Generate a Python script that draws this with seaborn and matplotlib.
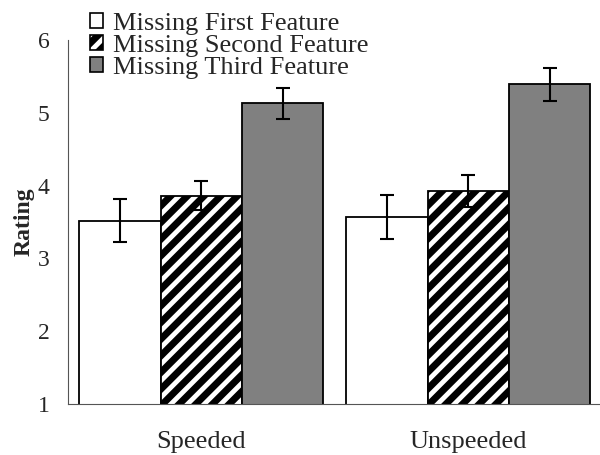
import numpy as np
import pandas as pd
import matplotlib
matplotlib.use("Agg")
import matplotlib.pyplot as plt
import seaborn as sns
from matplotlib.patches import Patch

# data
conditions = ["Speeded", "Unspeeded"]
features = ["Missing First Feature", "Missing Second Feature", "Missing Third Feature"]
first_mean = [3.52, 3.57]
second_mean = [3.86, 3.92]
third_mean = [5.13, 5.39]
first_err = [0.29, 0.30]
second_err = [0.20, 0.22]
third_err = [0.21, 0.23]

means = [first_mean, second_mean, third_mean]
errs = [first_err, second_err, third_err]

rows = []
for f, m, e in zip(features, means, errs):
    for c, v, ev in zip(conditions, m, e):
        rows.append({"Condition": c, "Feature": f, "Rating": v, "err": ev})
df = pd.DataFrame(rows)

sns.set_style("white")
plt.rcParams["font.family"] = ["Liberation Serif", "DejaVu Serif"]
plt.rcParams["hatch.linewidth"] = 5.0
plt.rcParams["hatch.color"] = "black"

colors = ["white", "white", "#808080"]
hatches = ["", "//", ""]

fig = plt.figure(figsize=(6, 4.55), dpi=100)
ax = fig.add_axes([0.113, 0.112, 0.89, 0.8])

sns.barplot(data=df, x="Condition", y="Rating", hue="Feature", order=conditions,
            hue_order=features, palette=colors, width=0.915, errorbar=None,
            edgecolor="black", linewidth=1.3, legend=False, ax=ax)

# style each hue group and add error bars
bar_groups = list(ax.containers)
for i, cont in enumerate(bar_groups):
    for bar, ev in zip(cont, errs[i]):
        bar.set_hatch(hatches[i])
        bar.set_facecolor(colors[i])
        bar.set_edgecolor("black")
        cx = bar.get_x() + bar.get_width() / 2
        ax.errorbar(cx, bar.get_height() + bar.get_y(), yerr=ev, color="black",
                    capsize=4.7, elinewidth=1.5, capthick=1.5, fmt="none", zorder=5)

ax.set_ylim(1, 6)
ax.set_xlim(-0.5, 1.5)
ax.set_yticks([1, 2, 3, 4, 5, 6])
ax.set_ylabel("Rating", fontsize=17, fontweight="bold")
ax.yaxis.set_label_coords(-0.062, 0.5)
ax.set_xlabel("")
ax.set_xticks([0.5], minor=True)
ax.tick_params(axis="x", which="major", length=0, labelsize=19, pad=19.5)
ax.tick_params(axis="x", which="minor", length=6, color="#555555", width=1)
ax.tick_params(axis="y", length=6, labelsize=17, color="#555555", width=1, pad=7)
for s in ["top", "right"]:
    ax.spines[s].set_visible(False)
ax.spines["left"].set_color("#555555")
ax.spines["bottom"].set_color("#555555")

handles = [Patch(facecolor=c, edgecolor="black", hatch=h, linewidth=1.2)
           for c, h in zip(colors, hatches)]
fig.legend(handles, features, loc="upper left", bbox_to_anchor=(0.15, 0.972),
           frameon=False, fontsize=19, labelspacing=0.01, handlelength=0.5,
           handleheight=0.5, handletextpad=0.38, borderaxespad=0, borderpad=0)

fig.savefig("out.png", dpi=100)
